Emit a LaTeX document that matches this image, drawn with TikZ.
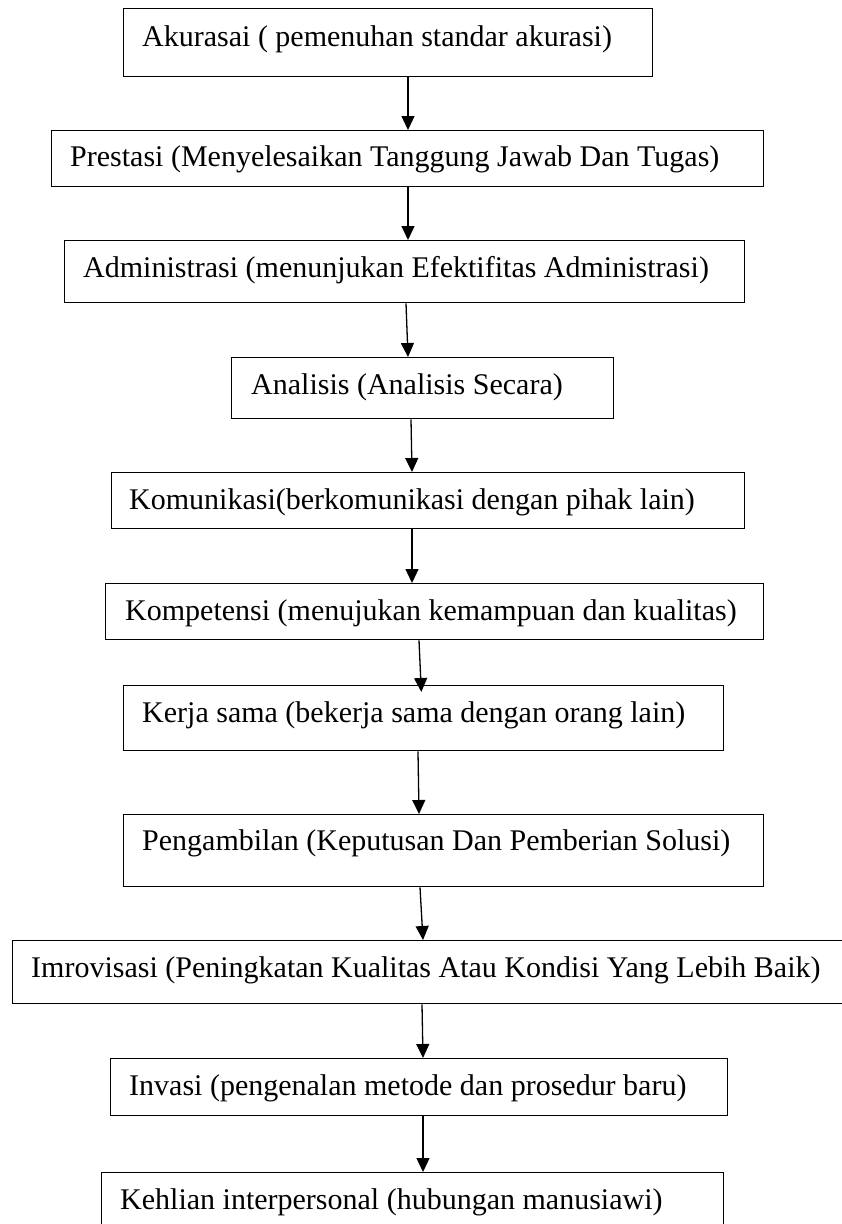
\documentclass[tikz,border=0pt]{standalone}
\usepackage{fontspec}
\setmainfont{Liberation Serif}
\usetikzlibrary{arrows.meta}
\tikzset{
  box/.style={draw=black, line width=1.3pt, rectangle, inner sep=0pt, anchor=north west},
  lbl/.style={inner sep=0pt, anchor=base west, font=\fontsize{30}{36}\selectfont},
  conn/.style={line width=1.3pt, -{Triangle[length=14pt,width=13pt]}}
}
\begin{document}
\begin{tikzpicture}[x=1pt,y=-1pt]
\useasboundingbox (0,0) rectangle (842,1224);
\clip (0,0) rectangle (842,1224);
\fill[white] (0,0) rectangle (842,1224);
% boxes
\node[box, minimum width=529pt, minimum height=68pt] (b1) at (123,8) {};
\node[box, minimum width=712pt, minimum height=56pt] (b2) at (51,130) {};
\node[box, minimum width=680pt, minimum height=62pt] (b3) at (64,240) {};
\node[box, minimum width=382pt, minimum height=61pt] (b4) at (231,357) {};
\node[box, minimum width=633pt, minimum height=56pt] (b5) at (111,472) {};
\node[box, minimum width=658pt, minimum height=56pt] (b6) at (105,583) {};
\node[box, minimum width=600pt, minimum height=65pt] (b7) at (123,685) {};
\node[box, minimum width=640pt, minimum height=72pt] (b8) at (123,814) {};
\node[box, minimum width=850pt, minimum height=63pt] (b9) at (12,940) {};
\node[box, minimum width=617pt, minimum height=57pt] (b10) at (110,1058) {};
\node[box, minimum width=622pt, minimum height=70pt] (b11) at (101,1172) {};
% texts
\node[lbl] (t1) at (142,46) {Akurasai ( pemenuhan standar akurasi)};
\node[lbl] (t2) at (70,166) {Prestasi (Menyelesaikan Tanggung Jawab Dan Tugas)};
\node[lbl] (t3) at (83,277) {Administrasi (menunjukan Efektifitas Administrasi)};
\node[lbl] (t4) at (251,394) {Analisis (Analisis Secara)};
\node[lbl] (t5) at (129,509) {Komunikasi(berkomunikasi dengan pihak lain)};
\node[lbl] (t6) at (125,620) {Kompetensi (menujukan kemampuan dan kualitas)};
\node[lbl] (t7) at (142,722) {Kerja sama (bekerja sama dengan orang lain)};
\node[lbl] (t8) at (142,850) {Pengambilan (Keputusan Dan Pemberian Solusi)};
\node[lbl] (t9) at (31,977) {Imrovisasi (Peningkatan Kualitas Atau Kondisi Yang Lebih Baik)};
\node[lbl] (t10) at (129,1095) {Invasi (pengenalan metode dan prosedur baru)};
\node[lbl] (t11) at (120,1209) {Kehlian interpersonal (hubungan manusiawi)};
% connectors
\draw[conn] (b1.south -| 408,0) -- (b2.north -| 408,0);
\draw[conn] (b2.south -| 408,0) -- (b3.north -| 408,0);
\draw[conn] (b3.south -| 406,0) -- (b4.north -| 408,0);
\draw[conn] (b4.south -| 411,0) -- (b5.north -| 412,0);
\draw[conn] (b5.south -| 412,0) -- (b6.north -| 412,0);
\draw[conn, shorten >=-7pt] (b6.south -| 419,0) -- (b7.north -| 421,0);
\draw[conn] (b7.south -| 418,0) -- (b8.north -| 419,0);
\draw[conn] (b8.south -| 420,0) -- (b9.north -| 423,0);
\draw[conn] (b9.south -| 422,0) -- (b10.north -| 423,0);
\draw[conn] (b10.south -| 423,0) -- (b11.north -| 423,0);
\end{tikzpicture}
\end{document}
